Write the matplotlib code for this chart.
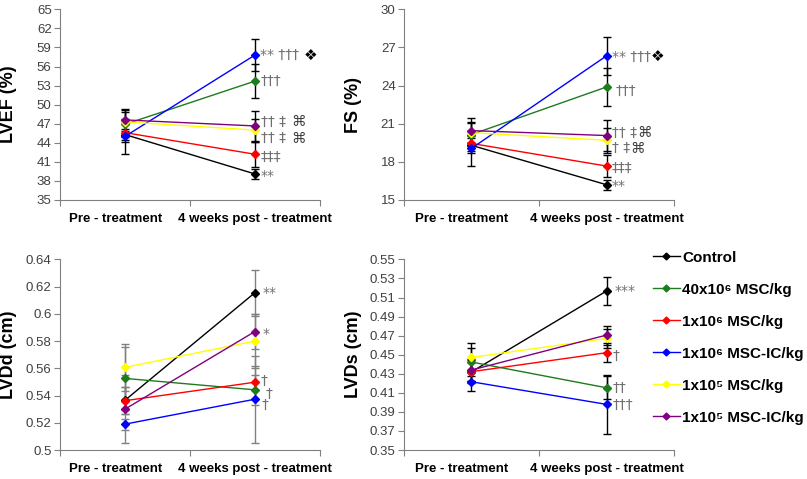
import matplotlib
matplotlib.use("Agg")
import matplotlib.pyplot as plt
from matplotlib.lines import Line2D

plt.rcParams["font.family"] = ["Liberation Sans", "DejaVu Sans"]

groups = ["Control", "40x10⁶ MSC/kg", "1x10⁶ MSC/kg", "1x10⁶ MSC-IC/kg",
          "1x10⁵ MSC/kg", "1x10⁵ MSC-IC/kg"]
colors = ["black", "#1e7b1e", "#ff0000", "#0000ff", "#ffff00", "#800080"]
timepoints = ["Pre - treatment", "4 weeks post - treatment"]

# values per group: (pre, post)
lvef = [(45.3, 39.1), (46.9, 53.7), (45.6, 42.2), (45.0, 57.8), (47.3, 46.0), (47.6, 46.65)]
lvef_err = [(0.8, 0.8), (2.0, 2.7), (1.5, 2.0), (2.7, 2.5), (1.8, 1.8), (1.7, 2.4)]
lvef_sig = ["**", "†††", "‡‡‡", "** ††† ❖", "†† ‡ ⌘", "†† ‡ ⌘"]

fs = [(19.3, 16.2), (20.15, 23.89), (19.45, 17.67), (19.06, 26.34), (20.3, 19.7), (20.46, 20.07)]
fs_err = [(0.6, 0.4), (0.9, 1.5), (0.6, 0.9), (1.35, 1.5), (0.8, 1.0), (1.0, 1.25)]
fs_sig = ["**", "†††", "‡‡‡", "** †††❖", "† ‡⌘", "†† ‡⌘"]

lvdd = [(0.5365, 0.6155), (0.5526, 0.5442), (0.5362, 0.5498), (0.519, 0.5373), (0.5607, 0.580), (0.530, 0.587)]
lvdd_err = [(0.01, 0.017), (0.023, 0.011), (0.01, 0.012), (0.004, 0.032), (0.017, 0.02), (0.025, 0.013)]
lvdd_sig = ["**", "†", "†", "†", "", "*"]

lvds = [(0.432, 0.5168), (0.4423, 0.4153), (0.4322, 0.4521), (0.4216, 0.3979), (0.4472, 0.467), (0.4339, 0.4706)]
lvds_err = [(0.012, 0.015), (0.015, 0.012), (0.01, 0.01), (0.01, 0.031), (0.015, 0.01), (0.012, 0.01)]
lvds_sig = ["***", "††", "†", "†††", "", ""]

# label nudges in pixels (dx, dy up) so stacked labels don't collide
lvef_nudge = [(6, -2), (6, 0), (6, -2.5), (5, 0), (6, -8), (6, 4)]
fs_nudge = [(5, -1), (9, -4), (5, -2), (5, -1), (5, -8), (5, 3)]
lvdd_nudge = [(8, 0), (11, -4), (6, 1), (7, -6), (0, 0), (8, -2)]
lvds_nudge = [(8, 0), (6, 0), (6, -3), (6, -1), (0, 0), (0, 0)]

panels = [
    ("LVEF (%)", lvef, lvef_err, lvef_sig, lvef_nudge, (35, 65), [35, 38, 41, 44, 47, 50, 53, 56, 59, 62, 65],
     "black", [0.0743, 0.5825, 0.322, 0.398], -0.165),
    ("FS (%)", fs, fs_err, fs_sig, fs_nudge, (15, 30), [15, 18, 21, 24, 27, 30],
     "black", [0.5006, 0.5825, 0.3346, 0.398], -0.155),
    ("LVDd (cm)", lvdd, lvdd_err, lvdd_sig, lvdd_nudge, (0.5, 0.64), [0.5, 0.52, 0.54, 0.56, 0.58, 0.6, 0.62, 0.64],
     "#808080", [0.0743, 0.0605, 0.322, 0.398], -0.165),
    ("LVDs (cm)", lvds, lvds_err, lvds_sig, lvds_nudge, (0.35, 0.55),
     [0.35, 0.37, 0.39, 0.41, 0.43, 0.45, 0.47, 0.49, 0.51, 0.53, 0.55],
     "black", [0.5006, 0.0605, 0.3346, 0.398], -0.155),
]

sym_style = {"❖": ("black", 11), "⌘": ("#404040", 10.5)}
PX = 0.72  # points per pixel at 100 dpi

fig = plt.figure(figsize=(8.07, 4.79), dpi=100)

for ylabel, vals, errs, sigs, nudges, ylim, yticks, ecol, pos, labx in panels:
    ax = fig.add_axes(pos)
    x = [0.5, 1.5]
    for v, e in zip(vals, errs):
        ax.errorbar(x, v, yerr=e, fmt="none", ecolor=ecol, elinewidth=1, capsize=3, capthick=1, zorder=2)
    for v, c in zip(vals, colors):
        ax.plot(x, v, color=c, lw=1, marker="D", ms=4.5, zorder=3)
    for v, s, (dx, dy) in zip(vals, sigs, nudges):
        if not s:
            continue
        sym = s[-1] if s[-1] in sym_style else ""
        base = s[:-1] if sym else s
        t = ax.annotate(base, (1.5, v[1]), xytext=(dx * PX, dy * PX), textcoords="offset points",
                        va="center", ha="left", fontsize=10, color="#707070",
                        family=["DejaVu Sans"])
        if sym:
            col, size = sym_style[sym]
            ax.annotate(sym, (1, 0.5), xycoords=t, xytext=(0.5, 0), textcoords="offset points",
                        va="center", ha="left", fontsize=size, color=col, family=["DejaVu Sans"])

    ax.set_xlim(0, 2)
    ax.set_ylim(*ylim)
    ax.set_yticks(yticks)
    ax.set_yticklabels([f"{t:g}" for t in yticks], fontsize=9.5, color="#404040")
    ax.set_xticks([0, 1, 2])
    ax.set_xticklabels([])
    ax.tick_params(axis="x", length=4, color="#808080")
    ax.tick_params(axis="y", length=4, color="#808080", pad=2)
    for xc, lab, shift in zip(x, timepoints, (-0.07, 0.0)):
        ax.text(xc + shift, -0.1, lab, transform=ax.get_xaxis_transform(), ha="center", va="center",
                fontsize=9.5, fontweight="bold")
    for side in ("top", "right"):
        ax.spines[side].set_visible(False)
    for side in ("left", "bottom"):
        ax.spines[side].set_color("#808080")
    ax.set_ylabel(ylabel, fontsize=13, fontweight="bold")
    ax.yaxis.set_label_coords(labx, 0.5)

handles = [Line2D([0], [0], color=c, lw=1, marker="D", ms=3.5) for c in colors]
fig.legend(handles, groups, loc="upper left", bbox_to_anchor=(0.809, 0.477), frameon=False,
           prop={"size": 11, "weight": "bold"}, labelspacing=1.18, handlelength=1.75,
           handletextpad=0.15, borderpad=0, borderaxespad=0)

fig.savefig("out.png", dpi=100, facecolor="white")
